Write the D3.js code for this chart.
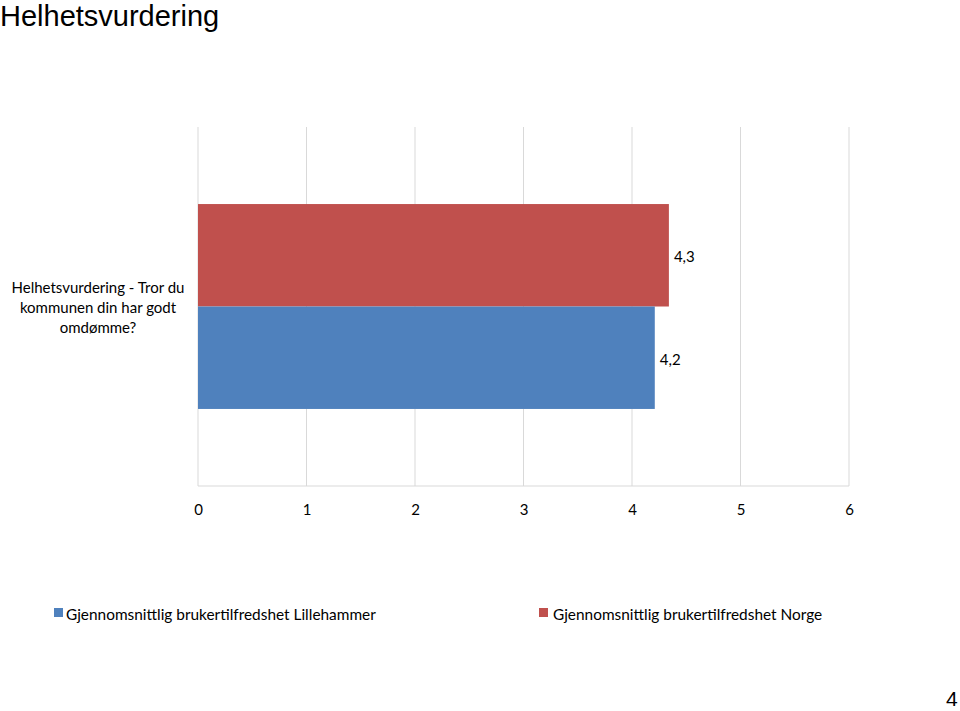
<!DOCTYPE html>
<html><head><meta charset="utf-8">
<script src="https://cdn.jsdelivr.net/npm/d3@7"></script>
<style>body{margin:0;background:#fff}</style>
</head><body>
<script>
const categories = ["Helhetsvurdering - Tror du kommunen din har godt omdømme?"];
const categoryLines = [["Helhetsvurdering - Tror du", "kommunen din har godt", "omdømme?"]];
const seriesNames = ["Gjennomsnittlig brukertilfredshet Lillehammer", "Gjennomsnittlig brukertilfredshet Norge"];
const lillehammer = [4.21];
const norge = [4.34];
const tickValues = [0, 1, 2, 3, 4, 5, 6];
const colors = ["#4f81bd", "#c0504d"];

(function () {
const W = 960, H = 711;
const svg = d3.select("body").append("svg").attr("width", W).attr("height", H);
const font = "Lato, 'Open Sans', sans-serif";

svg.append("text").attr("x", 0).attr("y", 26).attr("font-family", "Arial, 'Liberation Sans', sans-serif")
  .attr("font-size", 29).attr("fill", "#000").text("Helhetsvurdering");
svg.append("text").attr("x", 946).attr("y", 706)
  .attr("font-family", "Arial, 'Liberation Sans', sans-serif").attr("font-size", 21).text("4");

const pLeft = 198, pRight = 849, pTop = 127, pBottom = 486;
const x = d3.scaleLinear().domain([0, 6]).range([pLeft, pRight]);
const y = d3.scaleBand().domain(categories).range([pTop, pBottom]).paddingInner(0).paddingOuter(0.376);

// gridlines
svg.append("g").selectAll("line").data(tickValues).join("line")
  .attr("x1", d => x(d)).attr("x2", d => x(d)).attr("y1", pTop).attr("y2", pBottom)
  .attr("stroke", "#d9d9d9").attr("stroke-width", 1);
svg.append("line").attr("x1", pLeft).attr("x2", pRight).attr("y1", pBottom).attr("y2", pBottom)
  .attr("stroke", "#d9d9d9");

// axis tick labels
const axis = d3.axisBottom(x).tickValues(tickValues).tickSize(0).tickPadding(0).tickFormat(d3.format("d"));
const ag = svg.append("g").attr("transform", `translate(0,${pBottom + 18})`).call(axis);
ag.select(".domain").remove();
ag.selectAll("text").attr("font-family", font).attr("font-size", 15).attr("fill", "#000");

// bars: Norge on top (red), Lillehammer below (blue)
const seriesOrder = [{name: seriesNames[1], vals: norge, color: colors[1]},
                     {name: seriesNames[0], vals: lillehammer, color: colors[0]}];
const sub = d3.scaleBand().domain([0, 1]).range([0, y.bandwidth()]);
seriesOrder.forEach((s, i) => {
  categories.forEach((c, ci) => {
    const v = s.vals[ci];
    const yy = y(c) + sub(i);
    svg.append("rect").attr("x", x(0)).attr("y", yy).attr("width", x(v) - x(0))
      .attr("height", sub.bandwidth()).attr("fill", s.color);
    svg.append("text").attr("x", x(v) + 5).attr("y", yy + sub.bandwidth() / 2 + 7)
      .attr("font-family", font).attr("font-size", 15).attr("fill", "#000")
      .text(d3.format(".1f")(v).replace(".", ","));
  });
});

// category labels
categories.forEach((c, ci) => {
  const cy = y(c) + y.bandwidth() / 2;
  const lines = categoryLines[ci];
  const t = svg.append("text").attr("text-anchor", "middle").attr("font-family", font)
    .attr("font-size", 15).attr("fill", "#000");
  lines.forEach((l, li) => {
    t.append("tspan").attr("x", 98).attr("y", cy - 14 + (li - 1) * 20 + 20).text(l);
  });
});

// legend
const legendPos = [{x: 54, tx: 66}, {x: 539, tx: 553}];
seriesNames.forEach((n, i) => {
  svg.append("rect").attr("x", legendPos[i].x).attr("y", 608).attr("width", 9).attr("height", 9).attr("fill", colors[i]);
  svg.append("text").attr("x", legendPos[i].tx).attr("y", 620).attr("font-family", font)
    .attr("font-size", 15.4).attr("fill", "#000").text(n);
});
})();
</script>
</body></html>
